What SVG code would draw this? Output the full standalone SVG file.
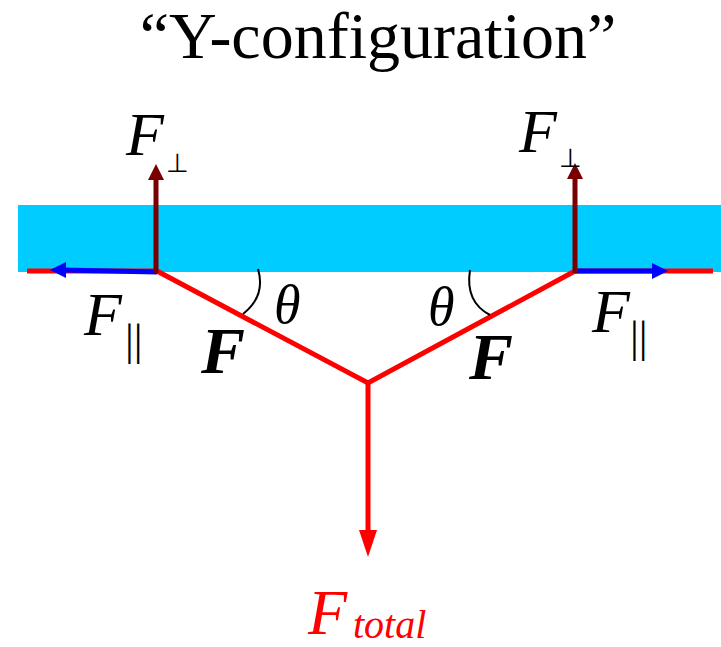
<svg xmlns="http://www.w3.org/2000/svg" width="721" height="647" viewBox="0 0 721 647">
<style>
.t{font-family:"Liberation Serif","Times New Roman",serif;fill:#000}
.it{font-style:italic}
.b{font-weight:bold}
.rt{fill:#ff0000}
.red{stroke:#ff0000;stroke-width:5;fill:none}
.blue{stroke:#0000ff;stroke-width:5;fill:none}
.dred{stroke:#780000;stroke-width:5;fill:none}
.arc{stroke:#000;stroke-width:2;fill:none}
</style>
<rect x="18" y="205" width="703" height="67" fill="#00ccff"/>
<text class="t" x="378" y="58" font-size="66" text-anchor="middle">“Y-configuration”</text>
<g id="connectors">
<line class="red" x1="27" y1="271" x2="157" y2="271"/>
<line class="red" x1="575" y1="271" x2="713" y2="271"/>
<polyline class="red" points="157,271 368,383 575,271" stroke-linejoin="miter"/>
<line class="red" x1="368" y1="383" x2="368" y2="532"/>
<polygon points="359,530 377,530 368,557" fill="#ff0000"/>
<line class="blue" x1="157" y1="272" x2="62" y2="270"/>
<polygon points="50,270 66,262 66,278" fill="#0000ff"/>
<line class="blue" x1="575" y1="271" x2="656" y2="271"/>
<polygon points="668,271 652,263 652,279" fill="#0000ff"/>
<line class="dred" x1="156" y1="273" x2="156" y2="176"/>
<polygon points="156,164 148,180 164,180" fill="#780000"/>
<line class="dred" x1="575" y1="273" x2="575" y2="175"/>
<polygon points="575,163 567,179 583,179" fill="#780000"/>
<path class="arc" d="M258,269 Q266,296 243,314"/>
<path class="arc" d="M470,270 Q465,302 490,315"/>
</g>
<g id="left-perp">
<text class="t it" x="126" y="155" font-size="62">F</text>
<text class="t" x="166" y="172" font-size="26">⊥</text>
</g>
<g id="right-perp">
<text class="t it" x="519" y="152" font-size="62">F</text>
<text class="t" x="559" y="167" font-size="26">⊥</text>
</g>
<g id="left-par">
<text class="t it" x="84" y="335" font-size="62">F</text>
<text class="t" x="125" y="355" font-size="44">||</text>
</g>
<g id="right-par">
<text class="t it" x="592" y="332" font-size="62">F</text>
<text class="t" x="630" y="352" font-size="44">||</text>
</g>
<g id="theta-left"><text class="t it" x="274" y="323" font-size="54">θ</text></g>
<g id="theta-right"><text class="t it" x="428" y="325" font-size="54">θ</text></g>
<g id="F-left"><text class="t it b" x="201" y="373" font-size="66">F</text></g>
<g id="F-right"><text class="t it b" x="469" y="379" font-size="66">F</text></g>
<g id="F-total">
<text class="t it rt" x="308" y="634" font-size="64">F</text>
<text class="t it rt" x="353" y="638" font-size="40">total</text>
</g>
</svg>
